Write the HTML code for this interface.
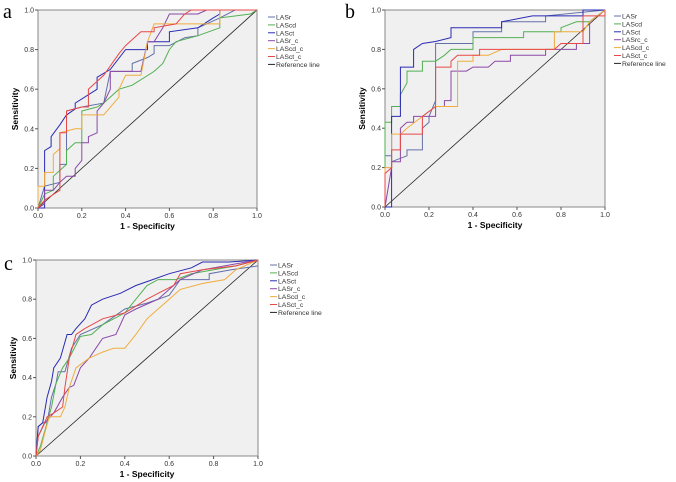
<!DOCTYPE html>
<html><head><meta charset="utf-8"><style>
html,body{margin:0;padding:0;background:#fff;width:676px;height:482px;overflow:hidden}
svg{display:block;font-family:"Liberation Sans",sans-serif}
</style></head><body>
<svg id="fig" width="676" height="482"></svg>
<script>
const seriesNames = ["LASr","LAScd","LASct","LASr_c","LAScd_c","LASct_c"];
const seriesNamesB = ["LASr","LAScd","LASct","LASrc_c","LAScd_c","LASct_c"];
const colors = ["#6470a8","#52b052","#2a2ab4","#8a48a8","#f0ac3c","#e84848"];
const tickValues = [0,0.2,0.4,0.6,0.8,1.0];
const tickLabels = ["0.0","0.2","0.4","0.6","0.8","1.0"];

const aLASr=[[0,0],[0.03,0.11],[0.1,0.13],[0.1,0.22],[0.13,0.22],[0.13,0.49],[0.2,0.51],[0.3,0.53],[0.33,0.69],[0.43,0.69],[0.43,0.73],[0.5,0.76],[0.53,0.78],[0.53,0.82],[0.6,0.82],[0.67,0.86],[0.73,0.87],[0.73,0.91],[0.83,0.96],[0.9,1],[1,1]];
const aLAScd=[[0,0],[0.03,0.07],[0.07,0.09],[0.07,0.16],[0.13,0.22],[0.13,0.29],[0.17,0.33],[0.2,0.33],[0.2,0.49],[0.27,0.51],[0.3,0.53],[0.37,0.6],[0.43,0.62],[0.53,0.69],[0.57,0.73],[0.6,0.8],[0.63,0.84],[0.73,0.87],[0.83,0.91],[0.83,0.96],[0.97,0.98],[1,1]];
const aLASct=[[0,0],[0.03,0],[0.03,0.29],[0.06,0.31],[0.06,0.36],[0.1,0.42],[0.13,0.47],[0.17,0.5],[0.17,0.53],[0.27,0.6],[0.27,0.66],[0.33,0.7],[0.4,0.8],[0.5,0.8],[0.5,0.84],[0.6,0.84],[0.6,0.89],[0.73,0.91],[0.8,0.96],[0.83,0.98],[0.83,1],[1,1]];
const aLASr_c=[[0,0],[0.03,0.02],[0.03,0.09],[0.07,0.09],[0.1,0.13],[0.13,0.16],[0.17,0.16],[0.17,0.2],[0.2,0.24],[0.2,0.33],[0.23,0.33],[0.23,0.36],[0.27,0.38],[0.27,0.49],[0.3,0.53],[0.33,0.6],[0.33,0.69],[0.47,0.69],[0.5,0.84],[0.53,0.84],[0.57,0.91],[0.6,0.98],[0.73,0.98],[0.77,1],[1,1]];
const aLAScd_c=[[0,0],[0,0.11],[0.03,0.11],[0.03,0.18],[0.07,0.18],[0.07,0.27],[0.1,0.3],[0.1,0.38],[0.17,0.4],[0.2,0.4],[0.2,0.47],[0.3,0.47],[0.37,0.56],[0.37,0.6],[0.4,0.67],[0.47,0.67],[0.5,0.84],[0.53,0.93],[0.83,0.93],[0.83,1],[1,1]];
const aLASct_c=[[0,0],[0.03,0.04],[0.1,0.09],[0.1,0.38],[0.13,0.38],[0.13,0.49],[0.2,0.51],[0.23,0.51],[0.23,0.6],[0.3,0.67],[0.37,0.78],[0.4,0.82],[0.47,0.89],[0.53,0.89],[0.53,0.91],[0.63,0.93],[0.67,0.98],[0.7,1],[1,1]];

const bLASr=[[0,0],[0,0.26],[0.03,0.26],[0.03,0.23],[0.1,0.26],[0.1,0.29],[0.17,0.29],[0.17,0.4],[0.2,0.43],[0.2,0.46],[0.23,0.54],[0.23,0.83],[0.4,0.83],[0.4,0.89],[0.53,0.89],[0.53,0.94],[0.73,0.94],[0.73,0.97],[1,1]];
const bLAScd=[[0,0],[0,0.43],[0.03,0.43],[0.03,0.51],[0.07,0.51],[0.07,0.57],[0.1,0.63],[0.1,0.69],[0.17,0.69],[0.17,0.74],[0.23,0.74],[0.27,0.77],[0.3,0.8],[0.4,0.8],[0.4,0.86],[0.63,0.86],[0.63,0.89],[0.8,0.89],[0.8,0.91],[0.87,0.94],[0.93,0.94],[1,1]];
const bLASct=[[0,0],[0.03,0],[0.03,0.46],[0.07,0.46],[0.07,0.71],[0.13,0.71],[0.13,0.8],[0.17,0.83],[0.23,0.84],[0.3,0.86],[0.3,0.91],[0.53,0.91],[0.53,0.94],[0.67,0.97],[0.9,0.97],[0.9,1],[1,1]];
const bLASrc_c=[[0,0],[0.03,0.2],[0.03,0.23],[0.07,0.23],[0.07,0.4],[0.1,0.43],[0.13,0.43],[0.13,0.46],[0.23,0.46],[0.23,0.51],[0.27,0.51],[0.27,0.54],[0.3,0.54],[0.3,0.69],[0.37,0.69],[0.4,0.71],[0.47,0.71],[0.5,0.74],[0.57,0.74],[0.57,0.77],[0.73,0.77],[0.73,0.8],[0.87,0.8],[0.87,0.83],[0.93,0.83],[0.93,0.94],[1,1]];
const bLAScd_c=[[0,0],[0,0.2],[0.03,0.2],[0.03,0.37],[0.07,0.37],[0.1,0.4],[0.17,0.46],[0.23,0.51],[0.33,0.51],[0.33,0.74],[0.4,0.74],[0.4,0.77],[0.47,0.77],[0.53,0.8],[0.77,0.8],[0.77,0.89],[0.9,0.89],[0.93,0.94],[1,1]];
const bLASct_c=[[0,0],[0,0.17],[0.03,0.2],[0.03,0.29],[0.07,0.29],[0.07,0.37],[0.17,0.37],[0.17,0.46],[0.23,0.51],[0.23,0.71],[0.3,0.71],[0.3,0.74],[0.33,0.77],[0.43,0.77],[0.43,0.8],[0.77,0.8],[0.8,0.83],[0.9,0.83],[0.9,0.97],[1,0.97],[1,1]];

const cLASr=[[0,0],[0.01,0.15],[0.03,0.17],[0.05,0.17],[0.07,0.3],[0.09,0.37],[0.1,0.43],[0.13,0.43],[0.16,0.55],[0.2,0.62],[0.3,0.67],[0.4,0.75],[0.5,0.78],[0.6,0.82],[0.65,0.9],[0.78,0.9],[0.78,0.93],[0.88,0.95],[1,0.97]];
const cLAScd=[[0,0],[0.02,0.05],[0.05,0.17],[0.07,0.25],[0.09,0.37],[0.12,0.45],[0.15,0.5],[0.2,0.61],[0.25,0.62],[0.3,0.67],[0.4,0.73],[0.45,0.8],[0.5,0.87],[0.55,0.9],[0.63,0.9],[0.7,0.93],[0.8,0.95],[0.9,0.97],[1,1]];
const cLASct=[[0,0],[0.01,0.15],[0.03,0.17],[0.05,0.3],[0.07,0.38],[0.08,0.45],[0.11,0.5],[0.14,0.62],[0.16,0.62],[0.18,0.65],[0.22,0.7],[0.25,0.77],[0.3,0.8],[0.38,0.83],[0.45,0.87],[0.5,0.89],[0.6,0.93],[0.7,0.96],[0.75,0.99],[0.87,0.99],[1,1]];
const cLASr_c=[[0,0],[0.01,0.1],[0.04,0.17],[0.08,0.22],[0.12,0.3],[0.15,0.35],[0.17,0.36],[0.2,0.45],[0.24,0.5],[0.27,0.55],[0.3,0.6],[0.36,0.62],[0.4,0.72],[0.45,0.75],[0.55,0.8],[0.6,0.85],[0.65,0.9],[0.75,0.95],[0.9,0.98],[1,1]];
const cLAScd_c=[[0,0],[0.02,0.03],[0.04,0.12],[0.06,0.2],[0.11,0.2],[0.13,0.25],[0.15,0.35],[0.18,0.45],[0.24,0.5],[0.3,0.53],[0.35,0.55],[0.4,0.55],[0.45,0.62],[0.5,0.7],[0.55,0.75],[0.6,0.8],[0.65,0.85],[0.75,0.88],[0.85,0.9],[0.9,0.95],[1,1]];
const cLASct_c=[[0,0],[0.01,0.1],[0.03,0.15],[0.05,0.2],[0.08,0.22],[0.12,0.25],[0.13,0.35],[0.15,0.5],[0.18,0.62],[0.22,0.65],[0.3,0.7],[0.4,0.73],[0.5,0.8],[0.55,0.83],[0.62,0.87],[0.65,0.93],[0.75,0.95],[0.9,0.97],[1,1]];

const NS="http://www.w3.org/2000/svg";
const svg=document.getElementById('fig');
function mk(tag,attrs,parent,text){const e=document.createElementNS(NS,tag);for(const k in attrs)e.setAttribute(k,attrs[k]);if(text!==undefined)e.textContent=text;(parent||svg).appendChild(e);return e;}

function panel(id,letter,box,series,names,legend,letterPos){
  const g=mk('g',{});
  
  
  const xs=v=>box.x0+v*(box.x1-box.x0);
  const ys=v=>box.y1-v*(box.y1-box.y0);
  const bg=mk('rect',{x:box.x0,y:box.y0,width:box.x1-box.x0,height:box.y1-box.y0,fill:'#f0f0f0',stroke:'#888','stroke-width':1},g);
  
  
  tickValues.forEach((v,i)=>{
    mk('line',{x1:xs(v),x2:xs(v),y1:box.y1,y2:box.y1+3,stroke:'#555'},g);
    const tx=mk('text',{x:xs(v),y:box.y1+10,'font-size':7,'text-anchor':'middle',fill:'#333'},g,tickLabels[i]);
    
    
    mk('line',{x1:box.x0-3,x2:box.x0,y1:ys(v),y2:ys(v),stroke:'#555'},g);
    const ty=mk('text',{x:box.x0-4,y:ys(v)+2.5,'font-size':7,'text-anchor':'end',fill:'#333'},g,tickLabels[i]);
    
    
  });
  const xt=mk('text',{x:(box.x0+box.x1)/2,y:box.y1+21,'font-size':8.5,'font-weight':'bold','text-anchor':'middle'},g,'1 - Specificity');
  
  
  const yc=(box.y0+box.y1)/2, yx=box.x0-20;
  const yt=mk('text',{x:yx,y:yc,'font-size':8.5,'font-weight':'bold','text-anchor':'middle',transform:`rotate(-90 ${yx} ${yc})`},g,'Sensitivity');
  
  
  const lt=mk('text',{x:letterPos[0],y:letterPos[1],'font-size':20,'font-family':'Liberation Serif, serif'},g,letter);
  
  
  const ref=mk('line',{x1:xs(0),y1:ys(0),x2:xs(1),y2:ys(1),stroke:'#222','stroke-width':0.8},g);
  
  
  series.forEach((s,i)=>{
    const p=mk('polyline',{points:s.map(d=>xs(d[0]).toFixed(1)+','+ys(d[1]).toFixed(1)).join(' '),fill:'none',stroke:colors[i],'stroke-width':1},g);
    
    
  });
  const allNames=names.concat(['Reference line']);
  allNames.forEach((n,i)=>{
    const yy=legend.y+i*7.9;
    const c=i<6?colors[i]:'#222';
    const le=mk('g',{},g);
    
    
    mk('line',{x1:legend.x,x2:legend.x+7,y1:yy,y2:yy,stroke:c,'stroke-width':1},le);
    mk('text',{x:legend.x+8,y:yy+2.5,'font-size':6.8,fill:'#333'},le,n);
  });
}
panel('a','a',{x0:38,x1:257,y0:10,y1:208},[aLASr,aLAScd,aLASct,aLASr_c,aLAScd_c,aLASct_c],seriesNames,{x:268,y:17},[3,18]);
panel('b','b',{x0:385,x1:605,y0:10,y1:207},[bLASr,bLAScd,bLASct,bLASrc_c,bLAScd_c,bLASct_c],seriesNamesB,{x:614,y:16},[345,18]);
panel('c','c',{x0:36,x1:258,y0:260,y1:456},[cLASr,cLAScd,cLASct,cLASr_c,cLAScd_c,cLASct_c],seriesNames,{x:270,y:265},[4,270]);
</script>
</body></html>
